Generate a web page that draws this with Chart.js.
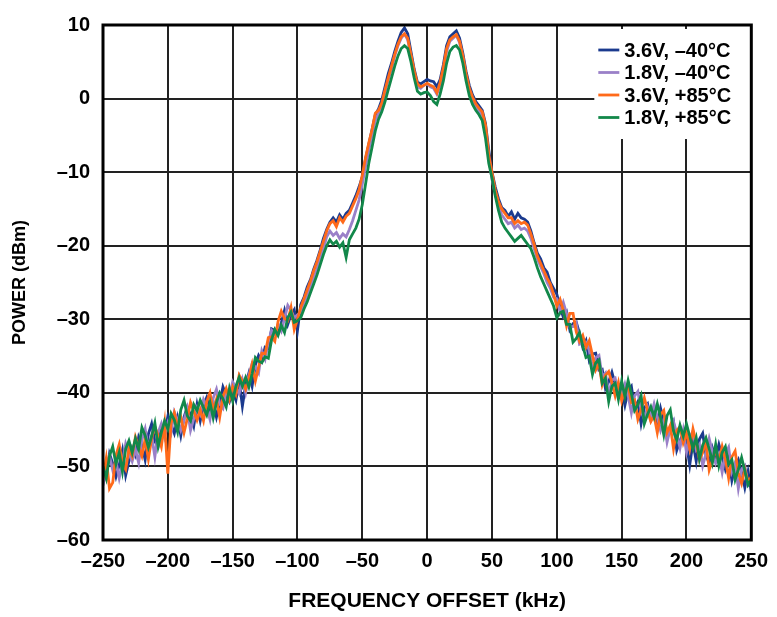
<!DOCTYPE html>
<html>
<head>
<meta charset="utf-8">
<script src="https://cdn.jsdelivr.net/npm/chart.js@4.4.1/dist/chart.umd.min.js"></script>
<style>
  html, body { margin: 0; padding: 0; background: #fff; }
</style>
</head>
<body>
<canvas id="myChart" width="777" height="617"></canvas>
<script>
// frequency offset (kHz)
const freq = [
  -250,-247.5,-245,-242.5,-240,-237.5,-235,-232.5,-230,-227.5,
  -225,-222.5,-220,-217.5,-215,-212.5,-210,-207.5,-205,-202.5,
  -200,-197.5,-195,-192.5,-190,-187.5,-185,-182.5,-180,-177.5,
  -175,-172.5,-170,-167.5,-165,-162.5,-160,-157.5,-155,-152.5,
  -150,-147.5,-145,-142.5,-140,-137.5,-135,-132.5,-130,-127.5,
  -125,-122.5,-120,-117.5,-115,-112.5,-110,-107.5,-105,-102.5,
  -100,-97.5,-95,-92.5,-90,-87.5,-85,-82.5,-80,-77.5,
  -75,-72.5,-70,-67.5,-65,-62.5,-60,-57.5,-55,-52.5,
  -50,-47.5,-45,-42.5,-40,-37.5,-35,-32.5,-30,-27.5,
  -25,-22.5,-20,-17.5,-15,-12.5,-10,-7.5,-5,-2.5,
  0,2.5,5,7.5,10,12.5,15,17.5,20,22.5,
  25,27.5,30,32.5,35,37.5,40,42.5,45,47.5,
  50,52.5,55,57.5,60,62.5,65,67.5,70,72.5,
  75,77.5,80,82.5,85,87.5,90,92.5,95,97.5,
  100,102.5,105,107.5,110,112.5,115,117.5,120,122.5,
  125,127.5,130,132.5,135,137.5,140,142.5,145,147.5,
  150,152.5,155,157.5,160,162.5,165,167.5,170,172.5,
  175,177.5,180,182.5,185,187.5,190,192.5,195,197.5,
  200,202.5,205,207.5,210,212.5,215,217.5,220,222.5,
  225,227.5,230,232.5,235,237.5,240,242.5,245,247.5,
  250
];

// power (dBm), 3.6V -40C
const pwr36Cold = [
  -50,-51.5,-48.3,-49.6,-51.4,-49.8,-47.8,-51.2,-49.3,-47.5,
  -48.5,-46,-47.1,-49.1,-45.6,-44.2,-46.6,-47.3,-44.7,-45.6,
  -43.2,-44.3,-45.5,-43.4,-45.8,-43.3,-41.9,-43,-44.5,-41.6,
  -43.8,-41.7,-40.6,-42.2,-41.3,-43.3,-41.4,-39.2,-40.3,-41.2,
  -39.8,-41,-38.4,-41.8,-38.9,-37.3,-39.1,-36.2,-34.9,-35.7,
  -33.8,-34,-31.3,-31.5,-32,-30.5,-28.8,-30.7,-29.4,-28.7,
  -31.5,-28,-27,-25.6,-24.6,-23.2,-22,-20.6,-19,-17.8,
  -16.8,-16.2,-16.8,-15.8,-16.4,-15.6,-15.2,-14.2,-13.2,-12,
  -10.6,-8.2,-6.2,-4.2,-2.2,-1.4,-0.2,1.6,3.4,4.8,
  6.4,7.8,9,9.6,8.8,6.4,4,2.2,2,2.3,
  2.6,2.4,2.3,1.6,2.6,4.6,7.2,8.4,8.8,9.2,
  8.2,6.2,3.7,1.8,0.5,-0.4,-1,-1.6,-3.4,-7,
  -10,-12,-13.6,-14.8,-15.2,-16,-15.4,-16.4,-15.6,-16.2,
  -16.4,-16.8,-18,-19.6,-21,-21.8,-23,-23.6,-25,-25.8,
  -26.6,-28.3,-29.7,-29,-31.4,-30.6,-30.4,-31.9,-33.8,-32.9,
  -35.6,-34.7,-34.6,-36.9,-36.8,-39.4,-38.5,-37.2,-38.8,-40.3,
  -39.6,-41.7,-39.7,-39.1,-42.1,-41.2,-44.2,-42,-41.5,-43.6,
  -42.3,-44.4,-42.1,-43.9,-46.1,-45.2,-44,-47.8,-46.5,-45.5,
  -47,-49.8,-46.7,-49.3,-46.3,-45.5,-48.4,-49.6,-47.5,-48.9,
  -47,-48.6,-50.4,-48.9,-51.9,-50,-49.1,-50.8,-52.9,-50.7,
  -53.4
];

// 1.8V -40C
const pwr18Cold = [
  -52.6,-50,-48.6,-50.5,-49.3,-51.6,-49.5,-46.9,-48.2,-49.3,
  -47.7,-49.5,-46.4,-44.9,-47.6,-45.8,-48.7,-45.4,-44.2,-46,
  -44.1,-45.4,-42.6,-43.7,-45.1,-43.7,-42.1,-45.1,-43.5,-42,
  -42.9,-40.9,-41.9,-43.6,-40.7,-39.5,-41.5,-42.1,-39.8,-40.5,
  -38.5,-39.3,-40.1,-38.2,-40,-37.6,-36,-36.5,-37.3,-34.3,
  -35.4,-33.1,-31.5,-32,-30.7,-31.6,-29.9,-28.1,-28.8,-29.8,
  -29.4,-29,-27.8,-26.8,-25.6,-24.4,-23.2,-21.8,-20.4,-18.8,
  -18,-18.6,-18.2,-19,-18.4,-18.8,-17.8,-16.6,-15.2,-13.8,
  -11.6,-9.2,-7,-5,-3,-2,-0.9,0.8,2.6,4,
  5.8,7.2,8.2,8.8,8,5.8,3.5,1.6,1.4,1.8,
  2,1.6,1.4,0.6,1.8,3.8,6.4,7.8,8.2,8.6,
  7.6,5.6,3,1,-0.2,-1,-1.7,-2.2,-4.2,-8,
  -11,-13,-14.6,-15.8,-16.4,-17,-16.8,-17.6,-17.2,-17.8,
  -17.6,-18,-19,-20.4,-21.8,-22.8,-23.8,-25,-25.8,-27,
  -27.2,-29,-27.7,-29.2,-31,-31,-30.5,-33.4,-33.2,-33.1,
  -34.2,-36.6,-35.2,-34.9,-37.8,-37.3,-40.2,-38.3,-38,-40,
  -40.2,-38.8,-40.4,-42.7,-40.4,-39.8,-42.4,-43.6,-41.9,-43.2,
  -41.5,-43.3,-45.1,-43.7,-46.7,-44.8,-43.9,-45.5,-47.5,-45.1,
  -48.1,-46.1,-45.2,-47.7,-47,-49.9,-48.3,-46.2,-48,-49.6,
  -48.5,-50.8,-48.3,-47.4,-50.7,-49.5,-53,-50.4,-49.9,-52.5,
  -52
];

// 3.6V +85C
const pwr36Hot = [
  -51.6,-48.9,-53,-52.2,-48.5,-47,-49.6,-50.4,-47.6,-48.6,
  -46,-47.3,-48.6,-46.3,-49,-46.2,-44.6,-45.8,-47.3,-44.1,
  -51,-44.1,-42.7,-44.5,-43.3,-45.4,-43.5,-41.3,-42.5,-43.7,
  -42.3,-43.8,-41.2,-40,-42.4,-40.9,-43.3,-40.5,-39.4,-40.9,
  -39.2,-40.2,-37.6,-38.4,-39.5,-38,-36.1,-38.4,-36.5,-34.6,
  -34.7,-32.5,-32.4,-33,-30.3,-28.9,-29.9,-30.2,-28.4,-31.4,
  -30,-28.4,-27.2,-26,-24.8,-23.4,-22.2,-20.8,-19.4,-18,
  -17,-16.6,-17.4,-16.2,-16.8,-16,-15.6,-14.6,-13.6,-12.4,
  -10.4,-8,-6,-4.2,-2,-1.6,-0.6,1.2,2.8,4.4,
  6,7.4,8.4,8.8,8.2,6,3.8,2,1.6,1.8,
  2.1,1.8,1.6,0.8,2.2,4.2,6.8,8,8.4,8.7,
  7.8,5.8,3.4,1.4,0.2,-0.7,-1.3,-1.8,-3.6,-7.6,
  -10,-12.4,-14,-15,-15.6,-16.2,-16.2,-17,-16.6,-17,
  -16.8,-17.2,-18.4,-19.8,-21.4,-22.4,-23.4,-24.4,-25.2,-26.6,
  -28.2,-27.3,-28.8,-30.9,-29.2,-29.2,-31.7,-33,-32.2,-33.8,
  -32.9,-34.9,-36.9,-36,-38.9,-37.6,-37.1,-38.6,-40.4,-38.6,
  -41.1,-39.6,-39.1,-41.3,-41,-43.6,-42.3,-40.7,-42.4,-43.9,
  -43.1,-45.4,-43,-42.4,-45.4,-44.4,-47.6,-45.1,-44.6,-46.8,
  -45.5,-47.6,-44.9,-46.8,-49.1,-48.1,-46.6,-50.5,-49.1,-47.8,
  -49.3,-47.3,-49,-51.6,-48.7,-47.9,-50.9,-52.3,-50.4,-52.1,
  -51.4
];

// 1.8V +85C
const pwr18Hot = [
  -50,-51.6,-48.6,-47.3,-49.7,-48.1,-50.7,-47.6,-46.5,-48.1,
  -46.2,-47.6,-44.7,-45.8,-47.4,-45.9,-44.1,-47.3,-45.4,-43.8,
  -44.9,-42.8,-43.7,-45.3,-42.3,-41,-43.1,-43.8,-41.6,-42.4,
  -41,-42,-43,-41.3,-43.4,-41.3,-40,-40.8,-41.9,-39.4,
  -41.1,-39.1,-37.9,-39.1,-37.9,-39.2,-37.4,-35.2,-35.7,-35.9,
  -35.1,-35.3,-32.8,-31.4,-32.2,-30.8,-31.8,-29.8,-29,-30.4,
  -30.2,-29.8,-28.6,-27.6,-26.4,-25.2,-24,-22.6,-21.2,-20,
  -19.2,-19.8,-19.4,-20.2,-19.6,-21.6,-19.2,-18.4,-17.6,-16.4,
  -14.4,-11.6,-8.8,-6.6,-4.4,-2.8,-1.8,-0.4,1.2,2.8,
  4.4,5.8,6.8,7.2,6.8,5,2.8,1,0.6,0.8,
  0.9,0.4,-0.4,-0.8,0.6,2.4,4.8,6.4,7,7.2,
  6.6,4.8,2.4,0.4,-0.8,-1.6,-2.2,-3,-5.4,-8.8,
  -10.8,-13.2,-15.2,-16.8,-17.6,-18.2,-18.8,-19.4,-19,-18.6,
  -19.2,-19.8,-20.4,-21.6,-23,-24.2,-25.2,-26.2,-27.2,-28.2,
  -29.8,-29.1,-28.9,-30.7,-30.7,-33.1,-32.6,-31.8,-33.6,-35.2,
  -35,-37.5,-35.9,-35.5,-38.7,-38,-41.2,-39.1,-38.7,-40.9,
  -38.4,-40.5,-38.3,-40.1,-42.4,-41.6,-40.4,-44.2,-42.9,-41.9,
  -43.3,-41.5,-43.3,-45.7,-43.1,-42.3,-45.2,-46.4,-44.4,-45.9,
  -44.2,-45.9,-47.6,-46.1,-49,-47.1,-46.1,-47.6,-49.5,-47,
  -49.9,-48.1,-47.3,-49.7,-49.1,-51.8,-50.4,-48.8,-50.6,-52.5,
  -51.8
];

const seriesLabels = ["3.6V, \u201340\u00B0C", "1.8V, \u201340\u00B0C", "3.6V, +85\u00B0C", "1.8V, +85\u00B0C"];
const seriesData = [pwr36Cold, pwr18Cold, pwr36Hot, pwr18Hot];
const seriesColors = ["#1b3a8e", "#9a80c8", "#ff6a1a", "#12884a"];

const FONT = "'Liberation Sans', Arial, sans-serif";

function dash(v) {
	return v < 0 ? "\u2013" + Math.abs(v) : String(v);
}

const datasets = seriesData.map(function (arr, k) {
	return {
		label: seriesLabels[k],
		data: freq.map(function (f, i) {
			return { x: f, y: arr[i] };
		}),
		borderColor: seriesColors[k],
		borderWidth: 2.8,
		pointRadius: 0,
		fill: false,
		tension: 0,
		order: 4 - k,
	};
});

// frame round the plot and the legend box in the top right corner
const framePlugin = {
	id: "frame",
	afterDatasetsDraw(chart) {
		const ctx = chart.ctx;
		const a = chart.chartArea;
		ctx.save();
		ctx.fillStyle = "#fff";
		ctx.fillRect(a.right - 157, a.top + 4, 156, 110);
		ctx.font = "bold 20px " + FONT;
		ctx.textBaseline = "middle";
		ctx.textAlign = "left";
		for (let k = 0; k < seriesLabels.length; k++) {
			const y = a.top + 25 + k * 22.5;
			ctx.strokeStyle = seriesColors[k];
			ctx.lineWidth = 2.8;
			ctx.beginPath();
			ctx.moveTo(a.right - 153, y);
			ctx.lineTo(a.right - 132, y);
			ctx.stroke();
			ctx.fillStyle = "#000";
			ctx.fillText(seriesLabels[k], a.right - 127, y + 1);
		}
		ctx.strokeStyle = "#000";
		ctx.lineWidth = 3;
		ctx.strokeRect(a.left, a.top, a.right - a.left, a.bottom - a.top);
		ctx.restore();
	},
};

const config = {
	type: "line",
	data: { datasets: datasets },
	options: {
		responsive: false,
		animation: false,
		devicePixelRatio: 1,
		layout: { padding: { top: 20, right: 25, left: 0, bottom: 0 } },
		plugins: {
			legend: { display: false },
			tooltip: { enabled: false },
		},
		scales: {
			x: {
				type: "linear",
				min: -250,
				max: 250,
				afterFit: function (scale) {
					scale.height = 77;
				},
				ticks: {
					stepSize: 50,
					color: "#000",
					padding: 9,
					maxRotation: 0,
					font: { family: FONT, size: 20, weight: "bold" },
					callback: dash,
				},
				grid: { color: "#222", lineWidth: 2, drawTicks: false },
				border: { display: false },
				title: {
					display: true,
					text: "FREQUENCY OFFSET (kHz)",
					color: "#000",
					font: { family: FONT, size: 21, weight: "bold" },
					padding: { top: 0, bottom: 3 },
				},
			},
			y: {
				min: -60,
				max: 10,
				afterFit: function (scale) {
					scale.width = 103;
				},
				ticks: {
					stepSize: 10,
					color: "#000",
					padding: 13,
					font: { family: FONT, size: 20, weight: "bold" },
					callback: dash,
				},
				grid: { color: "#222", lineWidth: 2, drawTicks: false },
				border: { display: false },
				title: {
					display: true,
					text: "POWER (dBm)",
					color: "#000",
					font: { family: FONT, size: 18, weight: "bold" },
					padding: { top: 9, bottom: 0 },
				},
			},
		},
	},
	plugins: [framePlugin],
};

const myChart = new Chart(document.getElementById("myChart"), config);
</script>
</body>
</html>
